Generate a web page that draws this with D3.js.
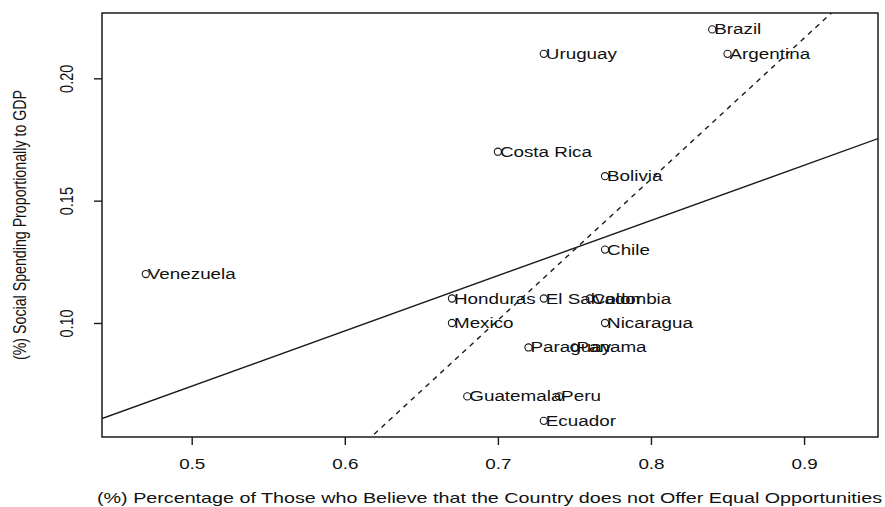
<!DOCTYPE html>
<html><head><meta charset="utf-8">
<script src="https://cdn.jsdelivr.net/npm/d3@7"></script>
<style>
body{margin:0;background:#fff}
text{font-family:"Liberation Sans",Arial,Helvetica,sans-serif;fill:#111}
</style>
</head><body>
<svg id="chart" width="885" height="507"></svg>
<script>
// ---- data ----
const countries = ["Brazil","Argentina","Uruguay","Costa Rica","Bolivia","Chile","Venezuela","Honduras","El Salvador","Colombia","Mexico","Nicaragua","Paraguay","Panama","Guatemala","Peru","Ecuador"];
const inequality = [0.84,0.85,0.73,0.70,0.77,0.77,0.47,0.67,0.73,0.76,0.67,0.77,0.72,0.75,0.68,0.74,0.73];
const spending   = [0.22,0.21,0.21,0.17,0.16,0.13,0.12,0.11,0.11,0.11,0.10,0.10,0.09,0.09,0.07,0.07,0.06];
const xTicks = [0.5,0.6,0.7,0.8,0.9];
const yTicks = [0.10,0.15,0.20];
const xTitle = "(%) Percentage of Those who Believe that the Country does not Offer Equal Opportunities";
const yTitle = "(%) Social Spending Proportionally to GDP";
const excludedFromSecondFit = ["Venezuela"];

// ---- layout ----
const L = 102, R = 878, T = 13, B = 437;
const FS = 14.5, SX = 1.3;   // font size and horizontal text stretch
const ink = "#1a1a1a";

const svg = d3.select("#chart");
const x = d3.scaleLinear().domain([0.4414, 0.9483]).range([L, R]);
const y = d3.scaleLinear().domain([0.0534, 0.2267]).range([B, T]);

function ols(xs, ys){
  const mx = d3.mean(xs), my = d3.mean(ys);
  let sxy = 0, sxx = 0;
  xs.forEach((v,i)=>{ sxy += (v-mx)*(ys[i]-my); sxx += (v-mx)*(v-mx); });
  const b = sxy/sxx; return {a: my - b*mx, b};
}
const fitAll = ols(inequality, spending);
const keep = countries.map((c)=>!excludedFromSecondFit.includes(c));
const fitSub = ols(inequality.filter((_,i)=>keep[i]), spending.filter((_,i)=>keep[i]));

svg.append("clipPath").attr("id","plotclip").append("rect")
  .attr("x",L).attr("y",T).attr("width",R-L).attr("height",B-T);

const xd = x.domain();
const g = svg.append("g").attr("clip-path","url(#plotclip)");
[[fitAll,null],[fitSub,"5,5"]].forEach(([f,dash])=>{
  g.append("line")
    .attr("x1", x(xd[0])).attr("y1", y(f.a + f.b*xd[0]))
    .attr("x2", x(xd[1])).attr("y2", y(f.a + f.b*xd[1]))
    .attr("stroke", ink).attr("stroke-width", 1.4)
    .attr("stroke-dasharray", dash);
});

// points
svg.append("g").selectAll("circle").data(countries).join("circle")
  .attr("cx",(d,i)=>x(inequality[i])).attr("cy",(d,i)=>y(spending[i]))
  .attr("r",3.6).attr("fill","none").attr("stroke",ink).attr("stroke-width",1.1);

// labels
svg.append("g").selectAll("text").data(countries).join("text")
  .attr("transform",(d,i)=>`translate(${x(inequality[i])+2},${y(spending[i])+5}) scale(${SX},1)`)
  .attr("font-size",FS).text(d=>d);

// box
svg.append("rect").attr("x",L).attr("y",T).attr("width",R-L).attr("height",B-T)
  .attr("fill","none").attr("stroke",ink).attr("stroke-width",1.5);

// x axis
const xa = svg.append("g").attr("transform",`translate(0,${B})`)
  .call(d3.axisBottom(x).tickValues(xTicks).tickSize(8).tickFormat(d3.format(".1f")));
xa.select(".domain").remove();
xa.selectAll(".tick line").attr("stroke",ink).attr("stroke-width",1.4);
xa.selectAll(".tick text").attr("font-size",FS).attr("fill","#111")
  .attr("y",0).attr("dy",null)
  .attr("transform",`translate(0,32) scale(${SX},1)`);

// y axis
const ya = svg.append("g").attr("transform",`translate(${L},0)`)
  .call(d3.axisLeft(y).tickValues(yTicks).tickSize(8).tickFormat(d3.format(".2f")));
ya.select(".domain").remove();
ya.selectAll(".tick line").attr("stroke",ink).attr("stroke-width",1.4);
ya.selectAll(".tick text").attr("font-size",FS).attr("fill","#111")
  .attr("x",0).attr("dy",null).attr("text-anchor","middle")
  .attr("transform",`translate(${73-L},0) scale(${SX},1) rotate(-90)`);

// titles
svg.append("text").attr("x",(L+R)/2 - 0.5).attr("y",503).attr("text-anchor","middle")
  .attr("font-size",FS).attr("textLength",785).attr("lengthAdjust","spacingAndGlyphs")
  .text(xTitle);
svg.append("text").attr("transform",`translate(26,${(T+B)/2}) scale(${SX},1) rotate(-90)`)
  .attr("text-anchor","middle").attr("font-size",FS)
  .attr("textLength",270).attr("lengthAdjust","spacingAndGlyphs")
  .text(yTitle);
</script>
</body></html>
